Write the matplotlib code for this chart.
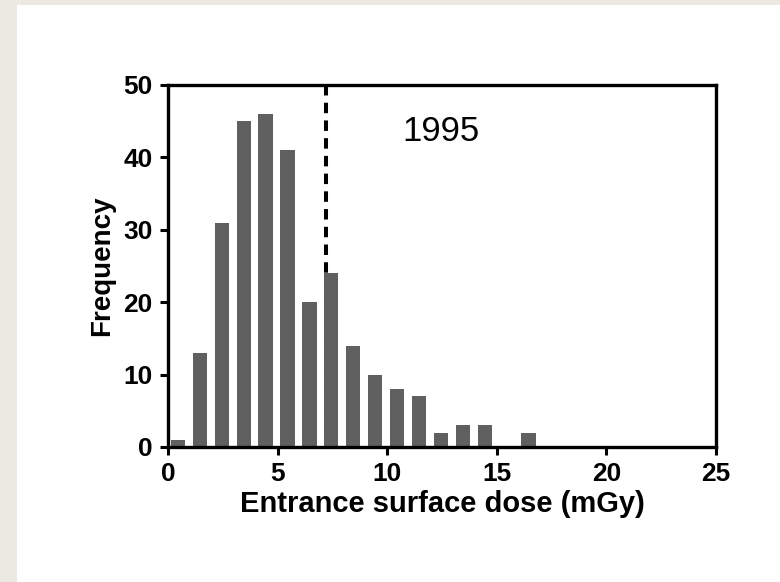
import numpy as np
import matplotlib
matplotlib.use("Agg")
import matplotlib.pyplot as plt
from matplotlib.patches import Rectangle

# histogram of entrance surface dose, 1995 survey
bin_left = np.arange(0, 17)
freq = [1, 13, 31, 45, 46, 41, 20, 24, 14, 10, 8, 7, 2, 3, 3, 0, 2]
ref_dose = 7.22
year_label = "1995"
x_ticks = [0, 5, 10, 15, 20, 25]
y_ticks = [0, 10, 20, 30, 40, 50]

plt.rcParams['font.family'] = ['Liberation Sans', 'DejaVu Sans']

fig = plt.figure(figsize=(7.8, 5.82), dpi=100, facecolor='#ece9e3')
# white page on top of the beige frame (kept behind the axes)
fig.patches.append(Rectangle((17/780, 0), 1, 577/582, transform=fig.transFigure,
                             facecolor='white', edgecolor='none', zorder=-5))

ax = fig.add_axes([168/780, 135/582, 548/780, 362/582])
ax.set_facecolor('white')

# dashed reference line, drawn top-down so the dash pattern starts at the top spine
ax.plot([ref_dose, ref_dose], [50, 0], color='black', lw=2.9, dashes=(2.6, 1.8),
        solid_capstyle='butt', zorder=1)
ax.bar(bin_left + 0.45, freq, width=0.65, color='#606060', zorder=2)

ax.text(12.45, 43.6, year_label, fontsize=25, ha='center', va='center')

ax.set_xlim(0, 25)
ax.set_ylim(0, 50)
ax.set_xticks(x_ticks)
ax.set_yticks(y_ticks)
ax.tick_params(direction='out', length=6, width=2.2, labelsize=19, pad=5)
for lab in ax.get_xticklabels() + ax.get_yticklabels():
    lab.set_fontweight('bold')

for sp in ax.spines.values():
    sp.set_linewidth(2.4)

ax.set_xlabel("Entrance surface dose (mGy)", fontsize=21, fontweight='bold', labelpad=3)
ax.set_ylabel("Frequency", fontsize=20, fontweight='bold', labelpad=6)

fig.savefig("out.png", dpi=100, facecolor=fig.get_facecolor())
